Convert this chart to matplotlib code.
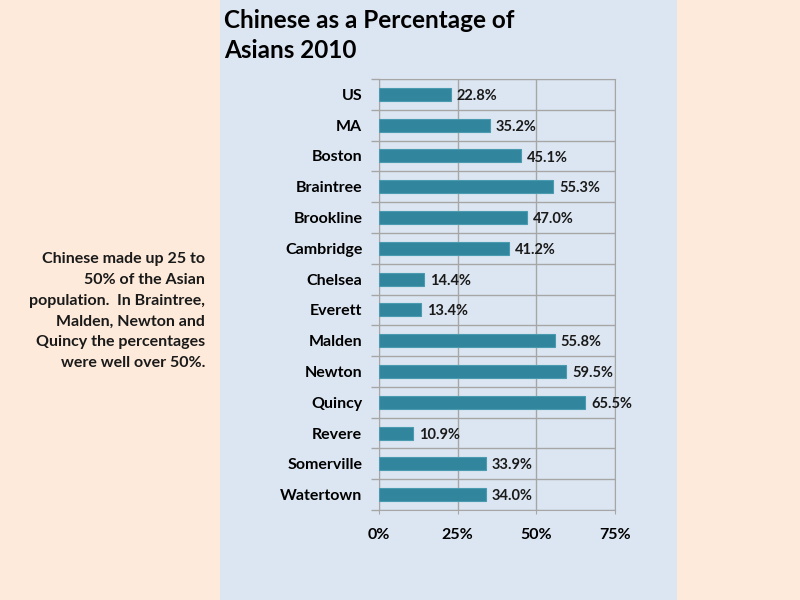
import matplotlib.pyplot as plt
from matplotlib.patches import Rectangle
from matplotlib.ticker import FixedLocator, PercentFormatter

places = ["US", "MA", "Boston", "Braintree", "Brookline", "Cambridge", "Chelsea",
          "Everett", "Malden", "Newton", "Quincy", "Revere", "Somerville", "Watertown"]
pct_chinese = [22.8, 35.2, 45.1, 55.3, 47.0, 41.2, 14.4, 13.4, 55.8, 59.5, 65.5, 10.9, 33.9, 34.0]
x_ticks = [0, 25, 50, 75]

title = "Chinese as a Percentage of\nAsians 2010"
note = ("Chinese made up 25 to\n50% of the Asian\npopulation.  In Braintree,\n"
        "Malden, Newton and\nQuincy the percentages\nwere well over 50%.")

plt.rcParams['font.family'] = ['Lato', 'DejaVu Sans']
plt.rcParams['font.weight'] = 'bold'

fig = plt.figure(figsize=(8, 6), dpi=100)
fig.patch.set_facecolor('#FDEADA')
fig.patches.append(Rectangle((220 / 800, 0), 457 / 800, 1, transform=fig.transFigure,
                             facecolor='#DCE6F2', edgecolor='none', zorder=-5))

ax = fig.add_axes([379 / 800, 90 / 600, 236 / 800, 431 / 600])
ax.set_zorder(2)
ax.set_facecolor('#DCE6F2')

pos = list(range(len(places)))
ax.barh(pos, pct_chinese, height=0.42, color='#31859C', edgecolor='#4A9AB0',
        linewidth=0.8, zorder=3)
for p, v in zip(pos, pct_chinese):
    ax.text(v + 1.9, p + 0.05, f"{v:.1f}%", va='center', ha='left', fontsize=10.5,
            fontweight='bold', color='#1a1a1a', zorder=4)

ax.set_xlim(0, 75)
ax.set_ylim(len(places) - 0.5, -0.5)
ax.set_xticks(x_ticks)
ax.xaxis.set_major_formatter(PercentFormatter(decimals=0))
ax.set_yticks(pos)
ax.set_yticklabels(places)
ax.yaxis.set_minor_locator(FixedLocator([i - 0.5 for i in range(len(places) + 1)]))

ax.grid(axis='x', which='major', color='#A6A6A6', linewidth=1, zorder=1)
ax.grid(axis='y', which='minor', color='#A6A6A6', linewidth=1, zorder=1)
ax.set_axisbelow(True)
ax.tick_params(axis='y', which='major', length=0, pad=12, labelsize=11.5)
ax.tick_params(axis='y', which='minor', length=6, color='#A6A6A6', width=1)
ax.tick_params(axis='x', which='major', length=3, color='#A6A6A6', pad=10, labelsize=11.5)
for s in ax.spines.values():
    s.set_color('#A6A6A6')

fig.text(224 / 800, 1 - 9 / 600, title, ha='left', va='top', fontsize=17.5,
         fontweight='bold', color='black', linespacing=1.38)
fig.text(205 / 800, 1 - 252 / 600, note, ha='right', va='top', fontsize=11.5,
         fontweight='bold', linespacing=1.62, color='#1a1a1a')

fig.savefig('out.png', dpi=100, facecolor=fig.get_facecolor())
